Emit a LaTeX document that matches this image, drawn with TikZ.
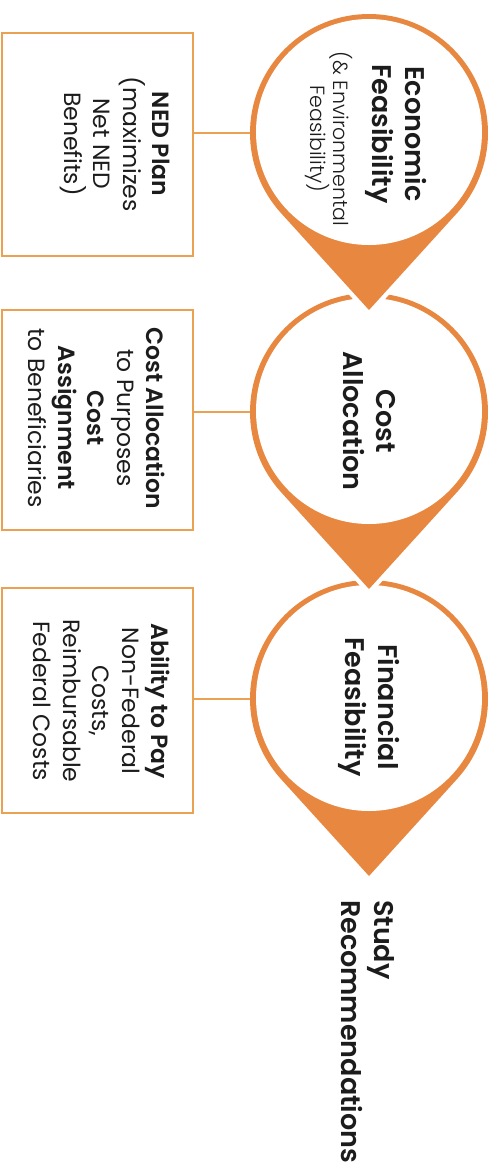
\documentclass[tikz,border=0pt]{standalone}
\usepackage{fontspec}
\setmainfont{Poppins}[BoldFont={Poppins SemiBold}]
\newfontfamily\lightfont{Poppins Light}
\definecolor{ringorange}{RGB}{232,136,64}
\definecolor{lineorange}{RGB}{234,162,82}
\definecolor{ink}{RGB}{28,28,28}
\begin{document}
\begin{tikzpicture}[x=1pt,y=1pt,
  box/.style={draw=lineorange, line width=2.6pt, fill=white},
  link/.style={draw=lineorange, line width=1.8pt},
  anchorcircle/.style={circle, minimum size=238pt, inner sep=0pt},
  vtext/.style={rotate=-90, align=center, text=ink, inner sep=0pt},
  headtext/.style={vtext, font=\fontsize{27}{33}\selectfont\bfseries},
  boxtext/.style={vtext, font=\fontsize{23.5}{29.5}\selectfont},
  notetext/.style={vtext, font=\fontsize{20.5}{23}\selectfont\lightfont},
  teardrop/.pic={
    % white halo that cuts the ring of the next stage below
    \path[draw=white, line width=9pt, line join=miter]
      (-42.25:119) arc[start angle=-42.25, end angle=222.25, radius=119]
      -- (0,-177) -- cycle;
    \fill[ringorange]
      (-42.25:119) arc[start angle=-42.25, end angle=222.25, radius=119]
      -- (0,-177) -- cycle;
    \fill[white] (0,1) circle[radius=113];
  }]

\useasboundingbox (0,0) rectangle (498,-1171);
\fill[white] (0,0) rectangle (498,-1171);

% stage circles, drawn bottom-up so each tip overlaps the next ring
\pic at (369,-699) {teardrop};
\pic at (369,-412) {teardrop};
\pic at (369,-133) {teardrop};

\node[anchorcircle] (c1) at (369,-133) {};
\node[anchorcircle] (c2) at (369,-412) {};
\node[anchorcircle] (c3) at (369,-699) {};

% stage titles
\node[headtext] (t1) at (396,-134) {Economic\\Feasibility};
\node[notetext] (n1) at (329,-139) {(\& Environmental\\Feasibility)};
\node[headtext] (t2) at (369,-421) {Cost\\Allocation};
\node[headtext] (t3) at (369,-707) {Financial\\Feasibility};

% side boxes
\node[box, minimum width=191pt, minimum height=223pt] (b1) at (97.5,-144.5) {};
\node[box, minimum width=191pt, minimum height=220pt] (b2) at (97.5,-420) {};
\node[box, minimum width=191pt, minimum height=225pt] (b3) at (97.5,-700.5) {};

\node[boxtext] (bt1) at (115,-144) {\textbf{NED Plan}\\(maximizes\\Net NED\\Benefits)};
\node[boxtext] (bt2) at (97,-418) {\textbf{Cost Allocation}\\to Purposes\\\textbf{Cost}\\\textbf{Assignment}\\to Beneficiaries};
\node[boxtext] (bt3) at (102,-701) {\textbf{Ability to Pay}\\Non-Federal\\Costs,\\Reimbursable\\Federal Costs};

% connectors from boxes to stages
\draw[link] (c1.west -| b1.east) -- (c1.west);
\draw[link] (c2.west -| b2.east) -- (c2.west);
\draw[link] (c3.west -| b3.east) -- (c3.west);

% outcome
\node[headtext, align=left, anchor=west] (rec) at (368,-900)
  {Study\\Recommendations};
\end{tikzpicture}
\end{document}
